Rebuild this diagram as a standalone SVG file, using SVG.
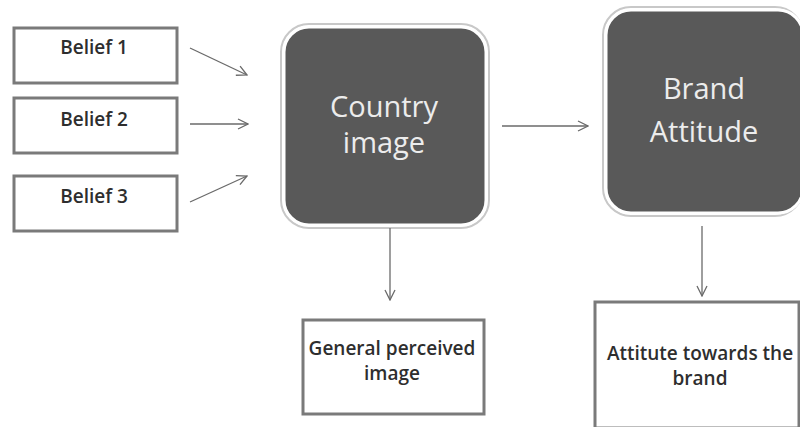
<svg xmlns="http://www.w3.org/2000/svg" width="800" height="427" viewBox="0 0 800 427">
<defs>
<marker id="arr" viewBox="0 0 12 12" refX="11" refY="6" markerWidth="12" markerHeight="12" markerUnits="userSpaceOnUse" orient="auto">
<path d="M1,1 L11,6 L1,11" fill="none" stroke="#6a6a6a" stroke-width="1.3"/>
</marker>
</defs>
<style>
.box{fill:#fff;stroke:#7a7a7a;stroke-width:3}
.dark{fill:#595959;stroke:#fff;stroke-width:3}
.shadow{fill:none;stroke:#c8c8c8;stroke-width:2}
.lbl{font-family:"Open Sans","Liberation Sans",sans-serif;font-size:19px;font-weight:600;fill:#2e2e2e;text-anchor:middle}
.big{font-family:"Open Sans","Liberation Sans",sans-serif;font-size:29px;fill:#ececec;text-anchor:middle}
.con{stroke:#6a6a6a;stroke-width:1.3;fill:none;marker-end:url(#arr)}
</style>
<rect width="800" height="427" fill="#fff"/>
<g id="belief1"><rect class="box" x="14" y="28" width="163" height="55"/><text class="lbl" x="94" y="54">Belief 1</text></g>
<g id="belief2"><rect class="box" x="14" y="98" width="163" height="55"/><text class="lbl" x="94" y="126">Belief 2</text></g>
<g id="belief3"><rect class="box" x="14" y="176" width="163" height="55"/><text class="lbl" x="94" y="203">Belief 3</text></g>
<g id="country"><rect class="shadow" x="281" y="24" width="208" height="204" rx="28"/><rect class="dark" x="284" y="27" width="202" height="198" rx="25"/><text class="big" x="384" y="117">Country</text><text class="big" x="384" y="153">image</text></g>
<g id="brand"><rect class="shadow" x="603" y="7" width="200" height="209" rx="28"/><rect class="dark" x="606" y="10" width="197" height="203" rx="25"/><text class="big" x="704" y="99">Brand</text><text class="big" x="704" y="142">Attitude</text></g>
<g id="general"><rect class="box" x="303" y="320" width="181" height="94"/><text class="lbl" x="392" y="355">General perceived</text><text class="lbl" x="392" y="380">image</text></g>
<g id="attitude"><rect class="box" x="595" y="302" width="204" height="126"/><text class="lbl" x="700" y="360">Attitute towards the</text><text class="lbl" x="700" y="385">brand</text></g>
<g id="connectors">
<line class="con" x1="190" y1="48" x2="247" y2="75"/>
<line class="con" x1="190" y1="124" x2="248" y2="124"/>
<line class="con" x1="190" y1="202" x2="247" y2="176"/>
<line class="con" x1="502" y1="126" x2="588" y2="126"/>
<line class="con" x1="390" y1="228" x2="390" y2="300"/>
<line class="con" x1="702" y1="226" x2="702" y2="296"/>
</g>
</svg>
